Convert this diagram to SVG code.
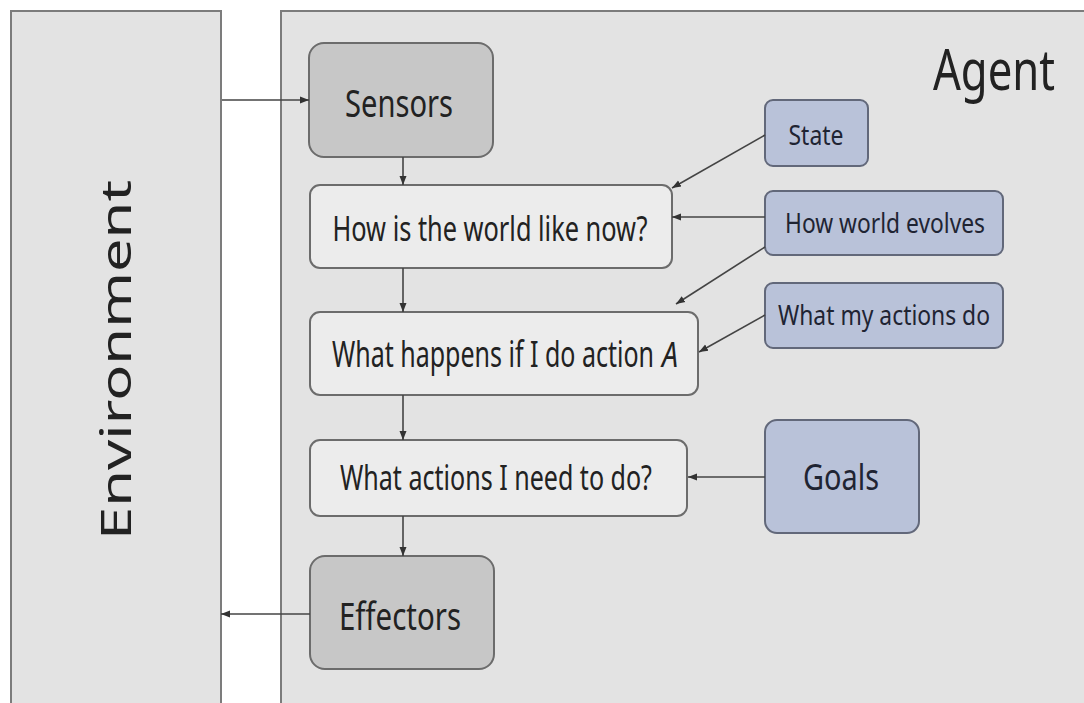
<svg xmlns="http://www.w3.org/2000/svg" width="1084" height="703" viewBox="0 0 1084 703">
<defs>
<marker id="ah" markerUnits="userSpaceOnUse" markerWidth="10" markerHeight="10" viewBox="0 0 10 10" refX="9" refY="5" orient="auto">
<path d="M0,1.5 L9,5 L0,8.5 Z" fill="#333"/>
</marker>
<style>
.panel{fill:#e3e3e3;stroke:#7c7c7c;stroke-width:2}
.grey{fill:#c7c7c7;stroke:#6c6c6c;stroke-width:2}
.light{fill:#ececec;stroke:#6c6c6c;stroke-width:2}
.blue{fill:#b9c2d9;stroke:#62687a;stroke-width:2}
.t{font-family:"Noto Sans","Open Sans","DejaVu Sans",sans-serif;fill:#222;text-anchor:middle}
.tb{font-family:"Noto Sans","Open Sans","DejaVu Sans",sans-serif;fill:#1f2433;text-anchor:middle}
.c{fill:none;stroke:#444;stroke-width:1.6;marker-end:url(#ah)}
</style>
</defs>
<rect width="1084" height="703" fill="#ffffff"/>
<g id="environment">
<rect class="panel" x="11" y="11" width="210" height="720"/>
<text class="t" transform="translate(131,360) rotate(-90)" font-size="42" textLength="360" lengthAdjust="spacingAndGlyphs">Environment</text>
</g>
<g id="agent">
<rect class="panel" x="281" y="11" width="806" height="720"/>
<text class="t" x="1055" y="90" font-size="56" style="text-anchor:end" textLength="122" lengthAdjust="spacingAndGlyphs">Agent</text>
</g>
<g id="sensors">
<rect class="grey" x="309" y="43" width="184" height="114" rx="15"/>
<text class="t" x="399" y="117" font-size="39" textLength="108" lengthAdjust="spacingAndGlyphs">Sensors</text>
</g>
<g id="world-now">
<rect class="light" x="310" y="185" width="362" height="83" rx="10"/>
<text class="t" x="490" y="241" font-size="35" textLength="315" lengthAdjust="spacingAndGlyphs">How is the world like now?</text>
</g>
<g id="what-happens">
<rect class="light" x="310" y="312" width="388" height="83" rx="10"/>
<text class="t" x="654" y="367" font-size="36" style="text-anchor:end" textLength="322" lengthAdjust="spacingAndGlyphs">What happens if I do action</text>
<text class="t" x="662" y="367" font-size="34" font-style="italic" style="text-anchor:start" textLength="16" lengthAdjust="spacingAndGlyphs">A</text>
</g>
<g id="what-actions">
<rect class="light" x="310" y="440" width="377" height="76" rx="10"/>
<text class="t" x="496" y="490" font-size="35" textLength="312" lengthAdjust="spacingAndGlyphs">What actions I need to do?</text>
</g>
<g id="effectors">
<rect class="grey" x="310" y="556" width="184" height="113" rx="15"/>
<text class="t" x="400" y="630" font-size="39" textLength="122" lengthAdjust="spacingAndGlyphs">Effectors</text>
</g>
<g id="state">
<rect class="blue" x="765" y="100" width="103" height="66" rx="8"/>
<text class="tb" x="816" y="145" font-size="27" textLength="55" lengthAdjust="spacingAndGlyphs">State</text>
</g>
<g id="world-evolves">
<rect class="blue" x="765" y="191" width="238" height="64" rx="8"/>
<text class="tb" x="885" y="233" font-size="27" textLength="200" lengthAdjust="spacingAndGlyphs">How world evolves</text>
</g>
<g id="my-actions">
<rect class="blue" x="765" y="283" width="238" height="65" rx="8"/>
<text class="tb" x="884" y="325" font-size="27" textLength="212" lengthAdjust="spacingAndGlyphs">What my actions do</text>
</g>
<g id="goals">
<rect class="blue" x="765" y="420" width="154" height="113" rx="12"/>
<text class="tb" x="841" y="490" font-size="37" textLength="76" lengthAdjust="spacingAndGlyphs">Goals</text>
</g>
<g id="connectors">
<line class="c" x1="222" y1="100" x2="309" y2="100"/>
<line class="c" x1="403" y1="157" x2="403" y2="185"/>
<line class="c" x1="403" y1="268" x2="403" y2="312"/>
<line class="c" x1="403" y1="395" x2="403" y2="440"/>
<line class="c" x1="403" y1="516" x2="403" y2="556"/>
<line class="c" x1="310" y1="614" x2="221" y2="614"/>
<line class="c" x1="765" y1="135" x2="672" y2="188"/>
<line class="c" x1="765" y1="217" x2="672" y2="217"/>
<line class="c" x1="765" y1="247" x2="676" y2="304"/>
<line class="c" x1="765" y1="315" x2="699" y2="352"/>
<line class="c" x1="765" y1="477" x2="688" y2="477"/>
</g>
</svg>
